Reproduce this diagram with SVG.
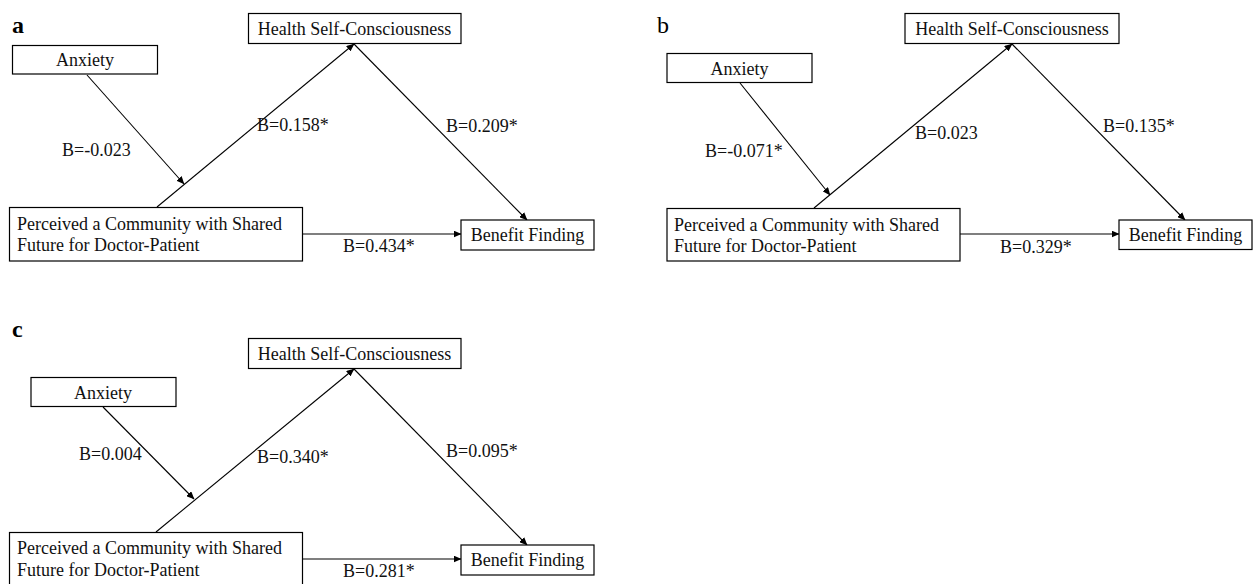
<svg xmlns="http://www.w3.org/2000/svg" width="1253" height="584" viewBox="0 0 1253 584">
<style>
.box{fill:#fff;stroke:#000;stroke-width:1.2}
.t{font-family:"Liberation Serif","Times New Roman",serif;font-size:18px;fill:#111}
.m{text-anchor:middle}
.lab{font-family:"Liberation Serif","Times New Roman",serif;font-size:24px;font-weight:bold;fill:#000}
.c line{stroke:#000;stroke-width:1.1;marker-end:url(#ah)}
</style>
<defs>
<marker id="ah" markerUnits="userSpaceOnUse" markerWidth="8" markerHeight="7" refX="7.5" refY="3.5" orient="auto">
<path d="M0,0 L8,3.5 L0,7 z" fill="#000"/>
</marker>
</defs>
<rect width="1253" height="584" fill="#fff"/>

<!-- Panel a -->
<g id="panel-a">
<text class="lab" x="12" y="33">a</text>
<g class="c" id="a-connectors">
<line x1="87" y1="75" x2="184" y2="184"/>
<line x1="157" y1="207" x2="354" y2="44"/>
<line x1="354" y1="44" x2="527" y2="220"/>
<line x1="303" y1="234" x2="461" y2="234"/>
</g>
<g id="a-health"><rect class="box" x="248.5" y="13.5" width="212.5" height="30"/><text class="t m" x="354.5" y="35">Health Self-Consciousness</text></g>
<g id="a-anxiety"><rect class="box" x="12.5" y="45.5" width="145" height="28.5"/><text class="t m" x="85" y="65.5">Anxiety</text></g>
<g id="a-perceived"><rect class="box" x="9.5" y="207.5" width="293" height="53.5"/><text class="t" x="17" y="230">Perceived a Community with Shared</text><text class="t" x="17" y="251">Future for Doctor-Patient</text></g>
<g id="a-benefit"><rect class="box" x="461" y="220" width="133" height="30"/><text class="t m" x="527.5" y="240.5">Benefit Finding</text></g>
<g id="a-labels">
<text class="t" x="62" y="156">B=-0.023</text>
<text class="t" x="257" y="131">B=0.158*</text>
<text class="t" x="446" y="132">B=0.209*</text>
<text class="t" x="343" y="252">B=0.434*</text>
</g>
</g>

<!-- Panel b -->
<g id="panel-b">
<text class="lab" x="657" y="33" style="font-weight:normal">b</text>
<g class="c" id="b-connectors">
<line x1="740" y1="83" x2="830" y2="195"/>
<line x1="814" y1="208" x2="1012" y2="44"/>
<line x1="1012" y1="44" x2="1185" y2="220"/>
<line x1="960" y1="234" x2="1119" y2="234"/>
</g>
<g id="b-health"><rect class="box" x="905" y="13.5" width="214" height="30"/><text class="t m" x="1012" y="35">Health Self-Consciousness</text></g>
<g id="b-anxiety"><rect class="box" x="667" y="53.5" width="145" height="29"/><text class="t m" x="739.5" y="75">Anxiety</text></g>
<g id="b-perceived"><rect class="box" x="667" y="208.5" width="293" height="52.5"/><text class="t" x="674" y="231">Perceived a Community with Shared</text><text class="t" x="674" y="252">Future for Doctor-Patient</text></g>
<g id="b-benefit"><rect class="box" x="1119" y="220" width="133" height="29.5"/><text class="t m" x="1185.5" y="240.5">Benefit Finding</text></g>
<g id="b-labels">
<text class="t" x="705" y="157">B=-0.071*</text>
<text class="t" x="915" y="139">B=0.023</text>
<text class="t" x="1103" y="132">B=0.135*</text>
<text class="t" x="1000" y="253">B=0.329*</text>
</g>
</g>

<!-- Panel c -->
<g id="panel-c">
<text class="lab" x="12" y="337">c</text>
<g class="c" id="c-connectors">
<line x1="103" y1="407" x2="194" y2="499"/>
<line x1="156" y1="532" x2="354" y2="369"/>
<line x1="354" y1="369" x2="527" y2="545"/>
<line x1="303" y1="559" x2="461" y2="559"/>
</g>
<g id="c-health"><rect class="box" x="248.5" y="338.5" width="212.5" height="30"/><text class="t m" x="354.5" y="360">Health Self-Consciousness</text></g>
<g id="c-anxiety"><rect class="box" x="31" y="377.5" width="145" height="29"/><text class="t m" x="103" y="399">Anxiety</text></g>
<g id="c-perceived"><rect class="box" x="9.5" y="532.5" width="293" height="60"/><text class="t" x="17" y="554">Perceived a Community with Shared</text><text class="t" x="17" y="576">Future for Doctor-Patient</text></g>
<g id="c-benefit"><rect class="box" x="461" y="545" width="133" height="30"/><text class="t m" x="527.5" y="566">Benefit Finding</text></g>
<g id="c-labels">
<text class="t" x="79" y="460">B=0.004</text>
<text class="t" x="257" y="463">B=0.340*</text>
<text class="t" x="446" y="457">B=0.095*</text>
<text class="t" x="343" y="577">B=0.281*</text>
</g>
</g>
</svg>
